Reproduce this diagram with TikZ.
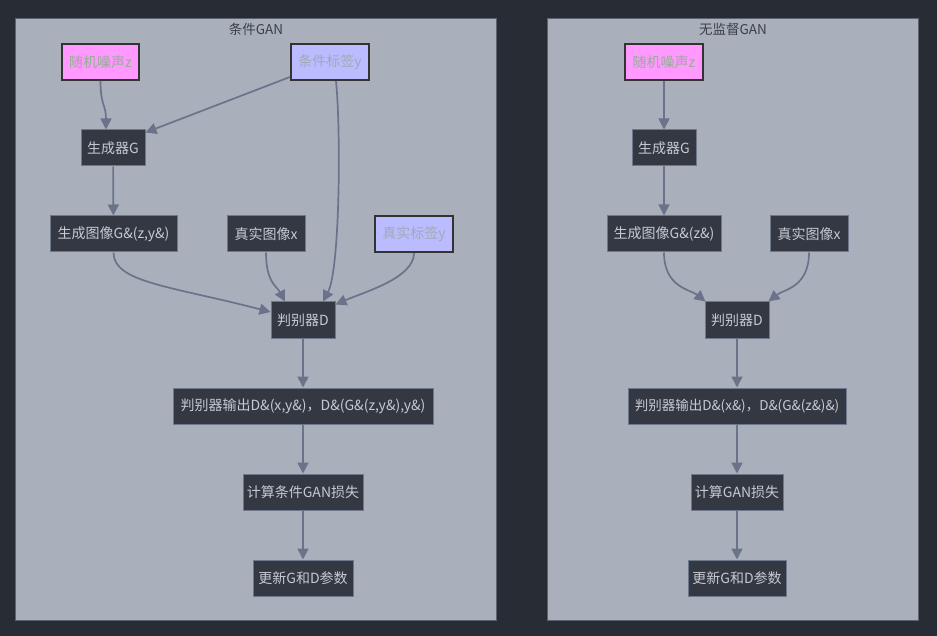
\documentclass[tikz,border=0pt]{standalone}
\usepackage{fontspec}
\setmainfont{Noto Sans CJK SC}
\usetikzlibrary{arrows.meta,calc}
\definecolor{bg}{HTML}{282C34}
\definecolor{clfill}{HTML}{A9B0BC}
\definecolor{clborder}{HTML}{5C6370}
\definecolor{nfill}{HTML}{333842}
\definecolor{nborder}{HTML}{6E788C}
\definecolor{ntext}{HTML}{C5CAD3}
\definecolor{edgecol}{HTML}{6A7389}
\definecolor{pinkfill}{HTML}{FF99FF}
\definecolor{pinktext}{HTML}{93B093}
\definecolor{bluefill}{HTML}{BBBBFF}
\definecolor{bluetext}{HTML}{A3A9B3}
\definecolor{titletext}{HTML}{3A3F4B}
\tikzset{
  box/.style={draw=nborder, fill=nfill, text=ntext, line width=1pt, inner sep=0pt,
    minimum height=36pt, font=\fontsize{14}{16}\selectfont},
  pinkbox/.style={box, draw=black!80, fill=pinkfill, text=pinktext, line width=2pt},
  bluebox/.style={box, draw=black!80, fill=bluefill, text=bluetext, line width=2pt},
  cluster/.style={draw=clborder, fill=clfill, line width=1pt, inner sep=0pt},
  ctitle/.style={text=titletext, font=\fontsize{13.5}{15}\selectfont, inner sep=0pt},
  edge/.style={draw=edgecol, line width=1.7pt, -{Triangle[length=11pt,width=11pt]}}
}
\begin{document}
\begin{tikzpicture}[x=1pt,y=-1pt]
\fill[bg] (0,0) rectangle (937,636);
\useasboundingbox (0,0) rectangle (937,636);

% clusters
\node[cluster, minimum width=481pt, minimum height=601pt] (clL) at (255.5,319.5) {};
\node[ctitle] (tL) at (256,29) {条件GAN};
\node[cluster, minimum width=371pt, minimum height=601pt] (clR) at (732.5,319.5) {};
\node[ctitle] (tR) at (733,29) {无监督GAN};

% left nodes
\node[pinkbox, minimum width=77pt] (nL) at (100.5,62) {随机噪声z};
\node[bluebox, minimum width=78pt] (cL) at (330,62) {条件标签y};
\node[box, minimum width=64pt] (gL) at (113,148) {生成器G};
\node[box, minimum width=127pt] (giL) at (113.5,234) {生成图像G\&(z,y\&)};
\node[box, minimum width=78pt] (rxL) at (266,234) {真实图像x};
\node[bluebox, minimum width=78pt] (ryL) at (414,234) {真实标签y};
\node[box, minimum width=64pt] (dL) at (303,320) {判别器D};
\node[box, minimum width=260pt] (oL) at (303,406) {判别器输出D\&(x,y\&)，D\&(G\&(z,y\&),y\&)};
\node[box, minimum width=120pt] (lL) at (303,492) {计算条件GAN损失};
\node[box, minimum width=100pt] (uL) at (303,578) {更新G和D参数};

% right nodes
\node[pinkbox, minimum width=78pt] (nR) at (664,62) {随机噪声z};
\node[box, minimum width=64pt] (gR) at (664,148) {生成器G};
\node[box, minimum width=114pt] (giR) at (664,234) {生成图像G\&(z\&)};
\node[box, minimum width=78pt] (rxR) at (809,234) {真实图像x};
\node[box, minimum width=64pt] (dR) at (737,320) {判别器D};
\node[box, minimum width=218pt, font=\fontsize{13.5}{16}\selectfont] (oR) at (737,406) {判别器输出D\&(x\&)，D\&(G\&(z\&)\&)};
\node[box, minimum width=92pt] (lR) at (737,492) {计算GAN损失};
\node[box, minimum width=98pt] (uR) at (737,578) {更新G和D参数};

% left edges
\draw[edge] (nL.south) .. controls +(0,25) and +(0,-25) .. ($(gL.north)+(-7,0)$);
\draw[edge] ($(cL.west)+(0,15)$) -- ($(gL.north east)+(0,3)$);
\draw[edge] ($(cL.south)+(6,0)$) .. controls +(5,50) and +(17,-32) .. ($(dL.north)+(20,0)$);
\draw[edge] (gL) -- (giL);
\draw[edge] (giL.south) .. controls +(0,30) and +(-100,-26) .. ($(dL.west)+(0,-8)$);
\draw[edge] (rxL.south) .. controls +(0,30) and +(-8,-15) .. ($(dL.north)+(-18,0)$);
\draw[edge] (ryL.south) .. controls +(0,25) and +(30,-13) .. ($(dL.north east)+(0,3)$);
\draw[edge] (dL) -- (oL);
\draw[edge] (oL) -- (lL);
\draw[edge] (lL) -- (uL);

% right edges
\draw[edge] (nR) -- (gR);
\draw[edge] (gR) -- (giR);
\draw[edge] (giR.south) .. controls +(0,35) and +(-15,-12) .. ($(dR.north west)+(1,0)$);
\draw[edge] (rxR.south) .. controls +(0,35) and +(15,-12) .. ($(dR.north east)+(-1,0)$);
\draw[edge] (dR) -- (oR);
\draw[edge] (oR) -- (lR);
\draw[edge] (lR) -- (uR);
\end{tikzpicture}
\end{document}
